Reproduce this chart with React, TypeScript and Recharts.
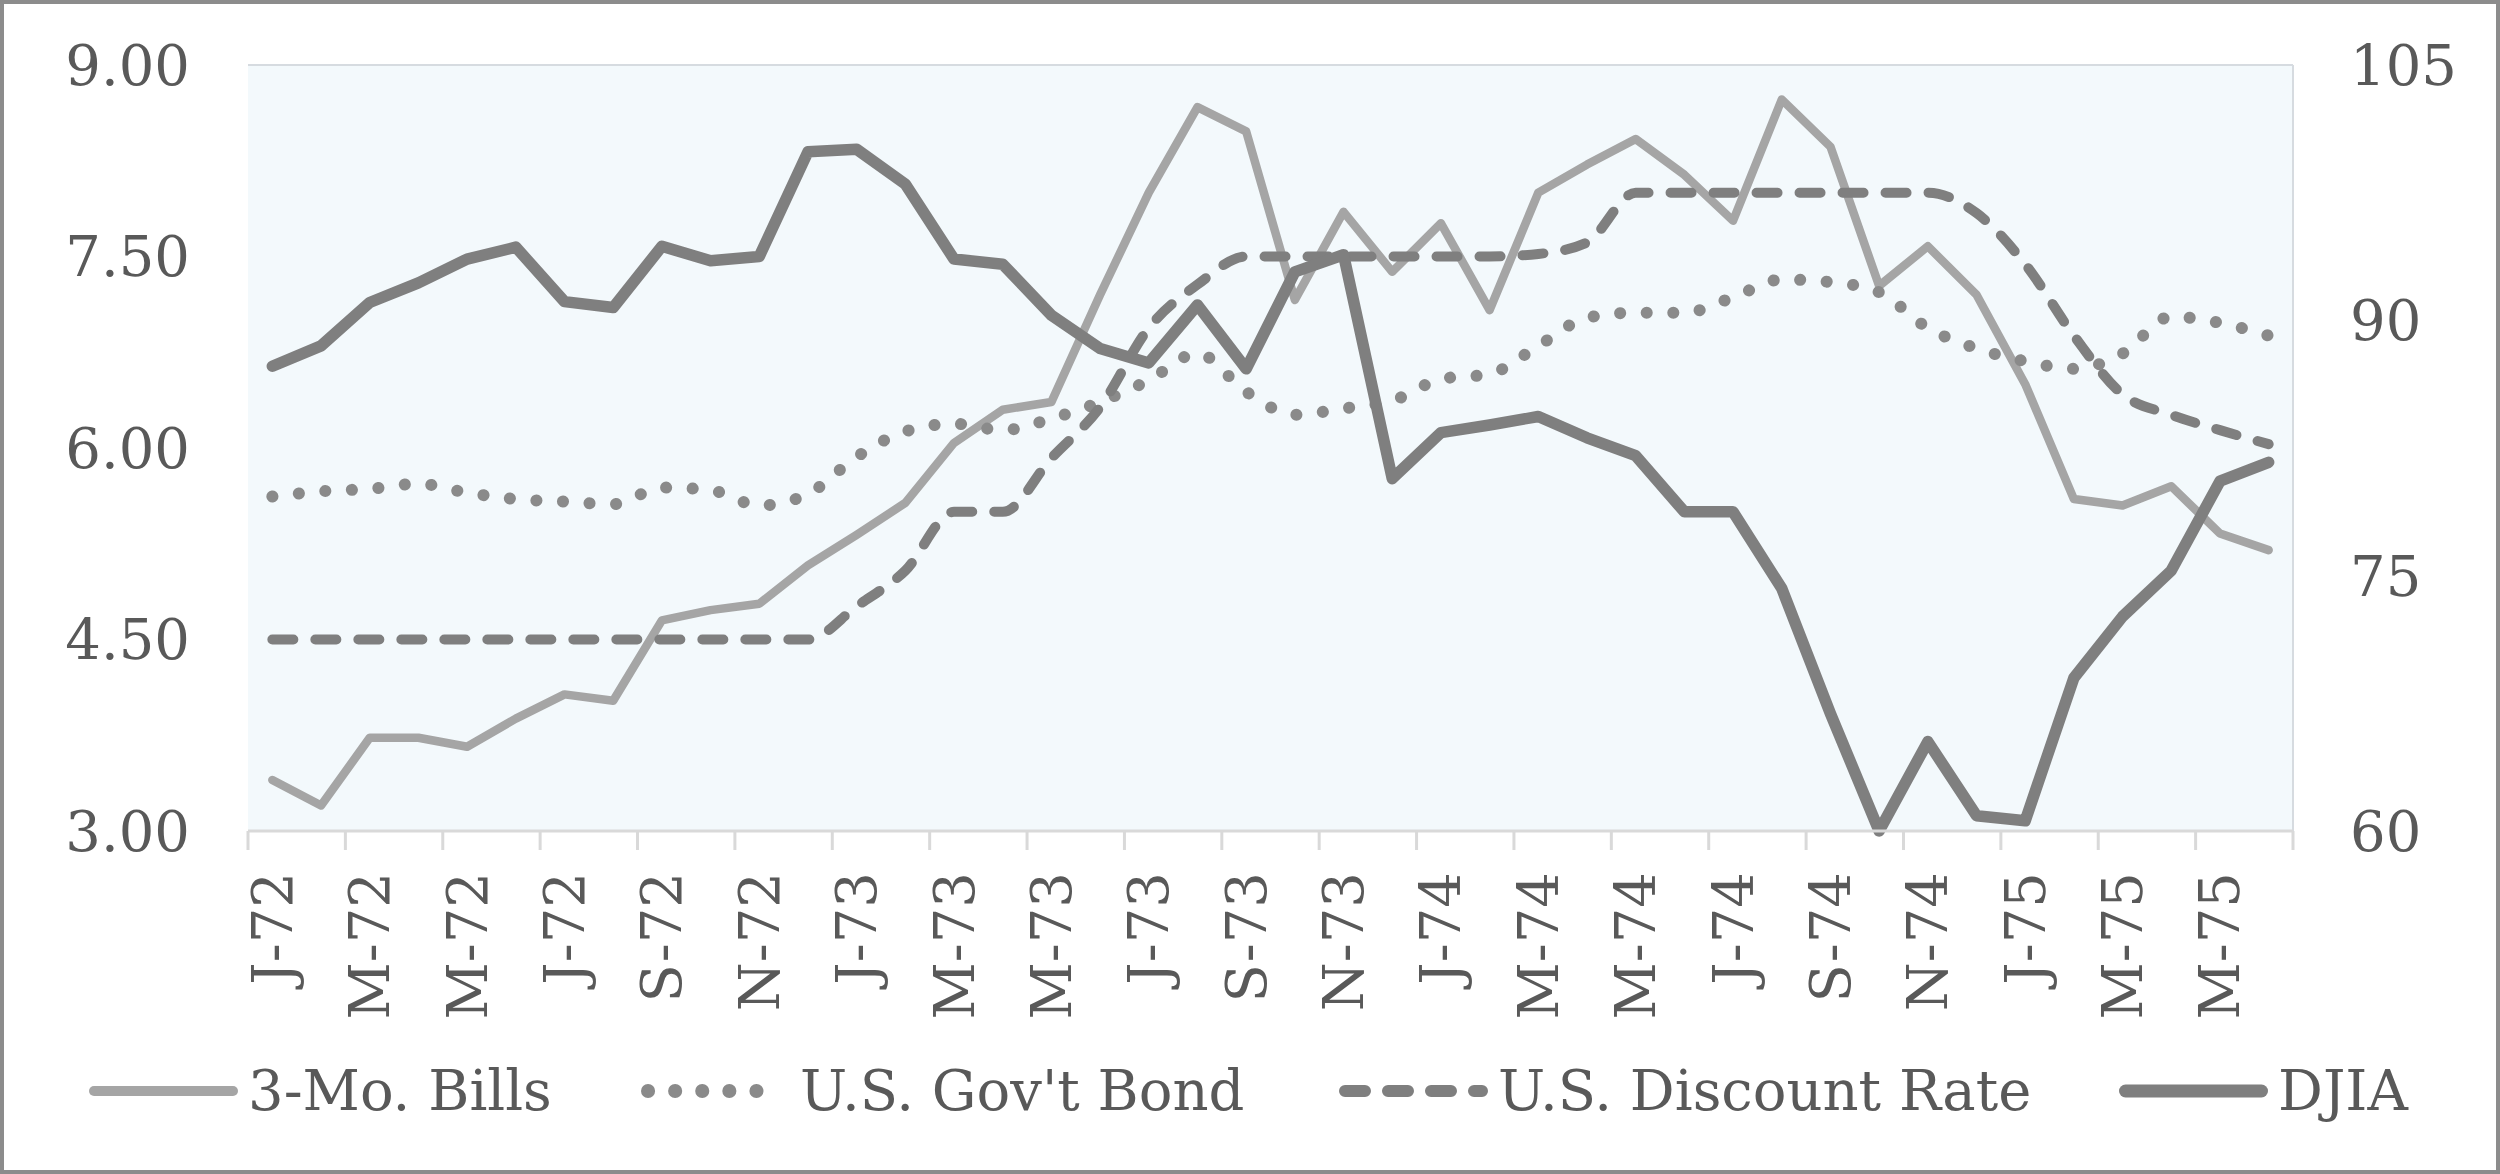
import { LineChart, Line, XAxis, YAxis, CartesianGrid } from "recharts"

// monthly, Jan 1972 .. Jun 1975
const months = [
  "J-72", "F-72", "M-72", "A-72", "M-72", "J-72", "J-72", "A-72", "S-72", "O-72", "N-72", "D-72",
  "J-73", "F-73", "M-73", "A-73", "M-73", "J-73", "J-73", "A-73", "S-73", "O-73", "N-73", "D-73",
  "J-74", "F-74", "M-74", "A-74", "M-74", "J-74", "J-74", "A-74", "S-74", "O-74", "N-74", "D-74",
  "J-75", "F-75", "M-75", "A-75", "M-75", "J-75",
]

const bills = [
  3.40, 3.20, 3.73, 3.73, 3.66, 3.88, 4.07, 4.02, 4.65, 4.73, 4.78, 5.08,
  5.32, 5.57, 6.04, 6.30, 6.36, 7.20, 8.00, 8.67, 8.48, 7.16, 7.85, 7.38,
  7.76, 7.08, 8.00, 8.22, 8.42, 8.14, 7.78, 8.73, 8.36, 7.27, 7.58, 7.20,
  6.50, 5.60, 5.55, 5.70, 5.33, 5.20,
]

const bond = [
  5.62, 5.66, 5.68, 5.72, 5.65, 5.60, 5.58, 5.56, 5.69, 5.67, 5.55, 5.64,
  5.93, 6.13, 6.19, 6.14, 6.23, 6.36, 6.53, 6.74, 6.44, 6.26, 6.31, 6.37,
  6.54, 6.58, 6.80, 7.02, 7.06, 7.06, 7.18, 7.32, 7.30, 7.22, 6.94, 6.78,
  6.68, 6.62, 6.74, 7.03, 6.98, 6.88,
]

const discount = [
  4.50, 4.50, 4.50, 4.50, 4.50, 4.50, 4.50, 4.50, 4.50, 4.50, 4.50, 4.50,
  4.76, 5.04, 5.50, 5.50, 5.92, 6.32, 6.94, 7.28, 7.50, 7.50, 7.50, 7.50,
  7.50, 7.50, 7.52, 7.61, 8.00, 8.00, 8.00, 8.00, 8.00, 8.00, 8.00, 7.84,
  7.44, 6.88, 6.42, 6.26, 6.14, 6.03,
]

const djia = [
  87.3, 88.5, 91.05, 92.2, 93.6, 94.3, 91.1, 90.75, 94.35, 93.5, 93.75, 99.9,
  100.05, 98.0, 93.6, 93.3, 90.3, 88.35, 87.5, 90.9, 87.15, 92.85, 93.85, 80.7,
  83.4, 83.85, 84.35, 83.1, 82.05, 78.75, 78.75, 74.25, 66.9, 60.0, 65.25, 60.9,
  60.6, 69.0, 72.6, 75.3, 80.55, 81.66,
]

const leftTicks = [3, 4.5, 6, 7.5, 9]
const rightTicks = [60, 75, 90, 105]

const W = 2500
const H = 1174
const PLOT_L = 248
const PLOT_R = 2293
const PLOT_T = 65
const PLOT_B = 831
const band = (PLOT_R - PLOT_L) / months.length

const FONT = "'DejaVu Serif', serif"
const TEXT = "#595959"
const AXIS = "#d9d9d9"

const data = months.map((m, i) => ({
  m,
  bills: bills[i],
  bond: bond[i],
  discount: discount[i],
  djia: djia[i],
}))

// legend swatches: left edge of the sample line, then the label
const legendItems = [
  { name: "3-Mo. Bills", color: "#a5a5a5", width: 10, dash: undefined, left: 89 },
  { name: "U.S. Gov't Bond", color: "#8a8a8a", width: 14, dash: "0.1 27", left: 641 },
  { name: "U.S. Discount Rate", color: "#7f7f7f", width: 12, dash: "20 23", left: 1339 },
  { name: "DJIA", color: "#7f7f7f", width: 13, dash: undefined, left: 2119 },
]

function MonthTick(props: any) {
  const { x, y, payload } = props
  const idx = payload?.index ?? props.index * 2
  const half = band / 2
  return (
    <g>
      <line x1={x - half} x2={x - half} y1={y} y2={y + 19} stroke={AXIS} strokeWidth={3} />
      {idx === months.length - 2 && (
        <line x1={x + 3 * half} x2={x + 3 * half} y1={y} y2={y + 19} stroke={AXIS} strokeWidth={3} />
      )}
      <text
        transform={`translate(${x},${y + 41}) rotate(-90)`}
        textAnchor="end"
        dominantBaseline="central"
        fill={TEXT}
        fontSize={56}
        fontFamily={FONT}
      >
        {payload.value}
      </text>
    </g>
  )
}

function LegendRow() {
  const cy = 1091
  return (
    <div style={{ position: "absolute", left: 0, top: 0, width: W, height: H, pointerEvents: "none" }}>
      {legendItems.map((s) => (
        <div key={s.name}>
          <svg width={150} height={30} style={{ position: "absolute", left: s.left, top: cy - 15 }}>
            <line
              x1={s.width / 2}
              x2={149 - s.width / 2}
              y1={15}
              y2={15}
              stroke={s.color}
              strokeWidth={s.width}
              strokeDasharray={s.dash}
              strokeLinecap="round"
            />
          </svg>
          <span
            style={{
              position: "absolute",
              left: s.left + 159,
              top: cy - 40,
              height: 80,
              lineHeight: "80px",
              fontFamily: FONT,
              fontSize: 56,
              color: TEXT,
              whiteSpace: "nowrap",
            }}
          >
            {s.name}
          </span>
        </div>
      ))}
    </div>
  )
}

export default function App() {
  return (
    <div style={{ position: "absolute", left: 0, top: 0, width: W, height: H, background: "#fff" }}>
      <LineChart
        width={W}
        height={H}
        data={data}
        margin={{ top: PLOT_T, right: 0, bottom: H - PLOT_B - 200, left: 0 }}
      >
        <CartesianGrid
          yAxisId="l"
          fill="#f3f9fc"
          stroke="#d6dbe0"
          strokeWidth={2}
          horizontalPoints={[PLOT_T]}
          verticalPoints={[PLOT_R]}
        />
        <XAxis
          dataKey="m"
          interval={1}
          height={200}
          padding={{ left: band / 2, right: band / 2 }}
          axisLine={{ stroke: AXIS, strokeWidth: 3 }}
          tickLine={false}
          tickSize={0}
          tickMargin={0}
          tick={(p: any) => <MonthTick {...p} />}
        />
        <YAxis
          yAxisId="l"
          domain={[3, 9]}
          ticks={leftTicks}
          tickFormatter={(v: number) => v.toFixed(2)}
          width={PLOT_L}
          axisLine={false}
          tickLine={false}
          tickSize={0}
          tickMargin={58}
          tick={{ fill: TEXT, fontSize: 56, fontFamily: FONT }}
        />
        <YAxis
          yAxisId="r"
          orientation="right"
          domain={[60, 105]}
          ticks={rightTicks}
          width={W - PLOT_R}
          axisLine={false}
          tickLine={false}
          tickSize={0}
          tickMargin={57}
          tick={{ fill: TEXT, fontSize: 56, fontFamily: FONT }}
        />
        <Line
          yAxisId="l"
          dataKey="bills"
          name="3-Mo. Bills"
          type="linear"
          stroke="#a5a5a5"
          strokeWidth={8.5}
          strokeLinecap="round"
          strokeLinejoin="round"
          dot={false}
          isAnimationActive={false}
        />
        <Line
          yAxisId="l"
          dataKey="bond"
          name="U.S. Gov't Bond"
          type="monotone"
          stroke="#8a8a8a"
          strokeWidth={12}
          strokeDasharray="0.1 26.5"
          strokeLinecap="round"
          dot={false}
          isAnimationActive={false}
        />
        <Line
          yAxisId="l"
          dataKey="discount"
          name="U.S. Discount Rate"
          type="monotone"
          stroke="#7f7f7f"
          strokeWidth={10}
          strokeDasharray="21 22"
          strokeLinecap="round"
          dot={false}
          isAnimationActive={false}
        />
        <Line
          yAxisId="r"
          dataKey="djia"
          name="DJIA"
          type="linear"
          stroke="#7f7f7f"
          strokeWidth={11.5}
          strokeLinecap="round"
          strokeLinejoin="round"
          dot={false}
          isAnimationActive={false}
        />
      </LineChart>
      <LegendRow />
      <div
        style={{
          position: "absolute",
          left: 0,
          top: 0,
          width: W,
          height: H,
          boxSizing: "border-box",
          border: "4px solid #8c8c8c",
          pointerEvents: "none",
        }}
      />
    </div>
  )
}
